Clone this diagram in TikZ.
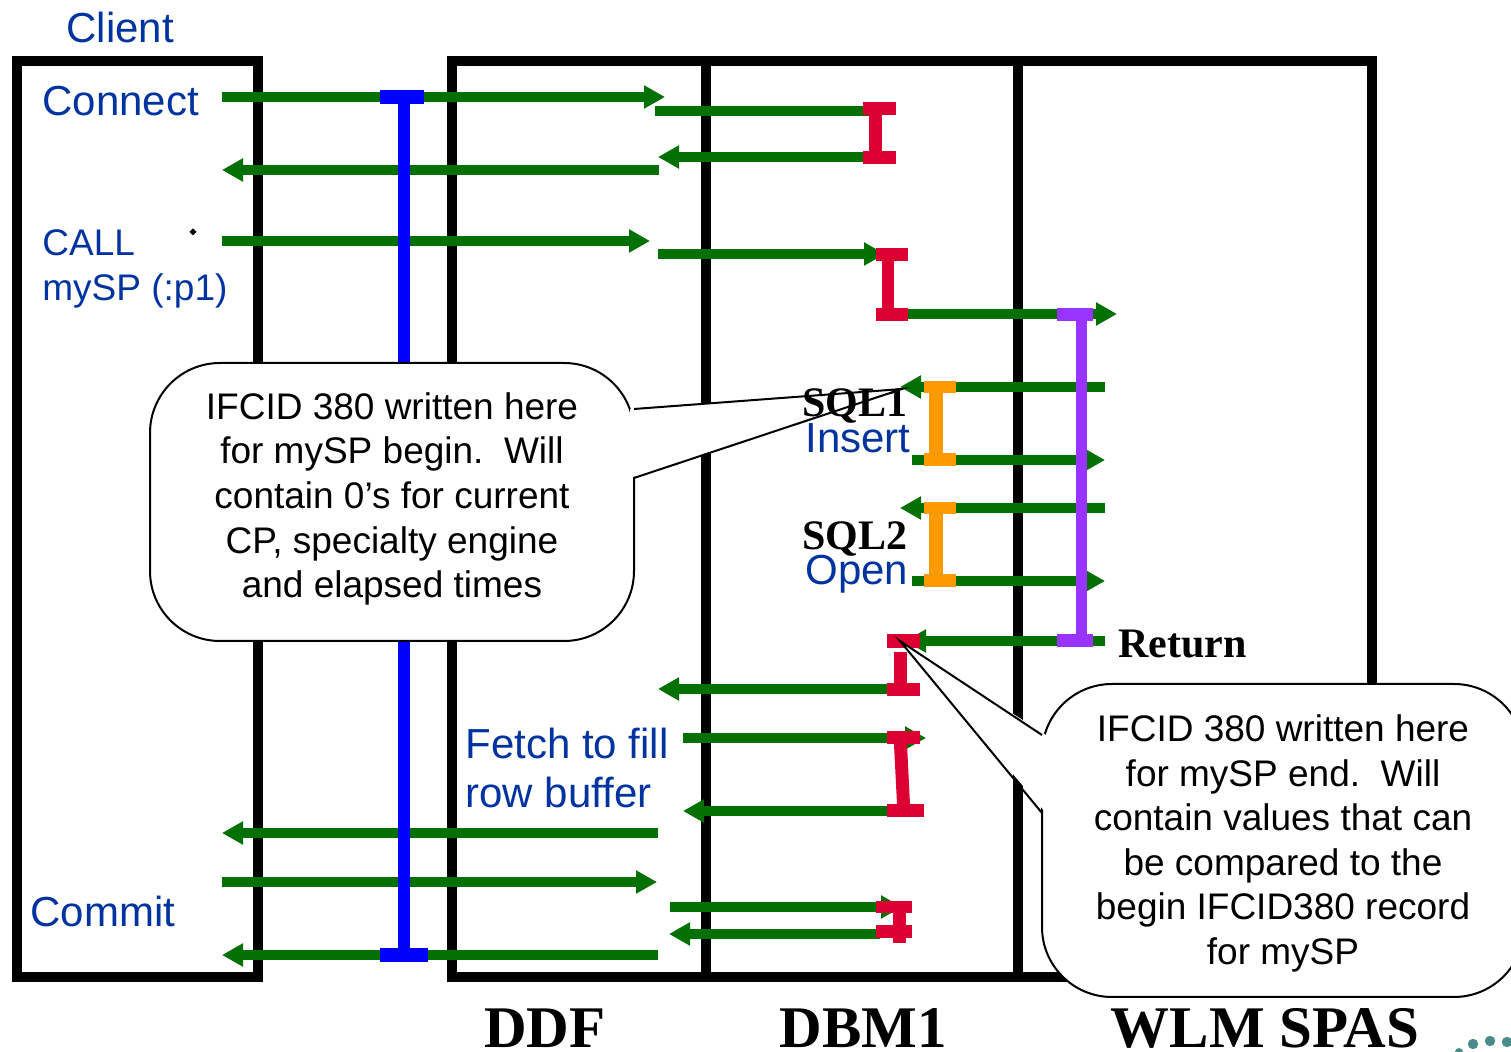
\documentclass[tikz,border=0pt]{standalone}
\usepackage{fontspec}
\setmainfont{Liberation Sans}
\newfontfamily\romana{Liberation Serif}
\usetikzlibrary{arrows.meta}

\definecolor{verde}{HTML}{037003}
\definecolor{azultexto}{HTML}{0033A0}
\definecolor{azul}{HTML}{0000FF}
\definecolor{rojo}{HTML}{DC0032}
\definecolor{naranja}{HTML}{FF9900}
\definecolor{morado}{HTML}{9933FF}
\definecolor{verdeazul}{HTML}{4A8C8C}

\tikzset{
  caja/.style={draw=black, line width=5pt},
  flecha/.style={draw=verde, line width=5pt, -{Triangle[length=10.5pt,width=11pt]}},
  tramo/.style={draw=verde, line width=5pt},
  rotulo/.style={text=azultexto, inner sep=0pt, font=\fontsize{21}{25}\selectfont},
  rotulochico/.style={text=azultexto, inner sep=0pt, font=\fontsize{18.5}{22}\selectfont},
  negrita/.style={inner sep=0pt, font=\romana\bfseries\fontsize{21}{25}\selectfont},
  titulo/.style={inner sep=0pt, font=\romana\bfseries\fontsize{29.5}{34}\selectfont},
  globo/.style={draw=black, line width=1pt, fill=white, rounded corners=35pt, inner sep=0pt},
  textoglobo/.style={inner sep=0pt, align=center, font=\fontsize{18.5}{22.3}\selectfont}
}

\begin{document}
\begin{tikzpicture}[x=0.5pt, y=-0.5pt]
    \useasboundingbox (0,0) rectangle (1511,1052);

    % Cajas
    \draw[caja] (17,61.5) rectangle (258,977.5);
    \draw[caja] (452,61.5) rectangle (1372,977.5);
    \draw[caja] (706,61.5) -- (706,977.5);
    \draw[caja] (1018,61.5) -- (1018,977.5);

    % Flechas verdes
    \coordinate (t1) at (655,111);
    \coordinate (t2) at (878,111);
    \draw[tramo] (t1) -- (t2);
    \foreach \xa/\xb/\y [count=\i] in {222/665/97, 868/658/157, 659/222/170, 222/650/241,
        658/885/254, 905/1117/314, 1105/900/387, 912/1105/460, 1105/900/508,
        912/1105/581, 1105/905/641, 890/658/689, 683/926/738, 890/683/811,
        658/222/833, 222/657/882, 670/902/907, 880/669/934, 658/222/955}{
      \coordinate (s\i) at (\xa,\y);
      \coordinate (e\i) at (\xb,\y);
      \draw[flecha] (s\i) -- (e\i);
    }

    % Barras rojas
    \fill[rojo] (863,102) rectangle (896,115);
    \fill[rojo] (869,115) rectangle (882,151);
    \fill[rojo] (863,151) rectangle (896,164);
    \fill[rojo] (876,248) rectangle (908,261);
    \fill[rojo] (882,261) rectangle (894,308);
    \fill[rojo] (876,308) rectangle (908,321);
    \fill[rojo] (887,634) rectangle (920,648);
    \fill[rojo] (894,652) rectangle (907,683);
    \fill[rojo] (887,683) rectangle (920,696);
    \fill[rojo] (887,731) rectangle (920,744);
    \fill[rojo] (894,744) -- (907,744) -- (910,804) -- (897,804) -- cycle;
    \fill[rojo] (887,804) rectangle (924,817);
    \fill[rojo] (876,901) rectangle (912,913);
    \fill[rojo] (893,913) rectangle (906,943);
    \fill[rojo] (876,925) rectangle (912,938);

    % Barras naranjas
    \foreach \y in {381,502}{
      \fill[naranja] (924,\y) rectangle (956,\y+12.5);
      \fill[naranja] (929,\y+12) rectangle (943,\y+73);
      \fill[naranja] (924,\y+72.5) rectangle (956,\y+85.5);
    }

    % Barra morada
    \fill[morado] (1057,308) rectangle (1093,321);
    \fill[morado] (1075.5,321) rectangle (1086.5,634);
    \fill[morado] (1057,634) rectangle (1093,647);

    % Barra azul
    \fill[azul] (398,97) rectangle (410,955);
    \fill[azul] (380,90) rectangle (424,104);
    \fill[azul] (380,948) rectangle (428,962);

    % Punto suelto
    \fill (193,228.5) -- (196.5,232) -- (193,235.5) -- (189.5,232) -- cycle;

    % Globo de inicio
    \node[globo, minimum width=242pt, minimum height=139pt] (globo1) at (392,502) {};
    \coordinate (g1a) at (634,409);
    \coordinate (g1b) at (634,478);
    \coordinate (punta1) at (902,389);
    \fill[white] ([xshift=-2pt]g1a) -- (punta1) -- ([xshift=-2pt]g1b) -- cycle;
    \draw[line width=1pt, line join=miter] (g1a) -- (punta1) -- (g1b);
    \node[textoglobo] (texto1) at (392,499) {IFCID 380 written here\\for mySP begin.\ \ Will\\contain 0’s for current\\CP, specialty engine\\and elapsed times};

    % Globo de fin
    \node[globo, minimum width=241pt, minimum height=156.5pt] (globo2) at (1283,840.5) {};
    \coordinate (g2a) at (1042,735);
    \coordinate (g2b) at (1042,813);
    \coordinate (punta2) at (900,641);
    \fill[white] ([xshift=2pt]g2a) -- (punta2) -- ([xshift=2pt]g2b) -- cycle;
    \draw[line width=1pt, line join=miter] (g2a) -- (punta2) -- (g2b);
    \node[textoglobo] (texto2) at (1283,843.5) {IFCID 380 written here\\for mySP end.\ \ Will\\contain values that can\\be compared to the\\begin IFCID380 record\\for mySP};

    % Rotulos
    \node[rotulo, anchor=base west] (cliente) at (66,43) {Client};
    \node[rotulo, anchor=base west] (connect) at (42,116) {Connect};
    \node[rotulochico, anchor=base west] (call) at (42,256) {CALL};
    \node[rotulochico, anchor=base west] (mysp) at (42,301) {mySP (:p1)};
    \node[rotulo, anchor=base west] (commit) at (30,927) {Commit};
    \node[rotulo, anchor=base west] (fetch) at (465,759) {Fetch to fill};
    \node[rotulo, anchor=base west] (buffer) at (465,808) {row buffer};
    \node[negrita, anchor=base east] (sqluno) at (908,417) {SQL1};
    \node[rotulo, anchor=base west] (insert) at (805,453) {Insert};
    \node[negrita, anchor=base east] (sqldos) at (908,550) {SQL2};
    \node[rotulo, anchor=base west] (open) at (805,585) {Open};
    \node[negrita, anchor=base west] (return) at (1118,658) {Return};
    \node[titulo, anchor=base] (ddf) at (545,1047) {DDF};
    \node[titulo, anchor=base] (dbm) at (863,1047) {DBM1};
    \node[titulo, anchor=base] (wlm) at (1265,1047) {WLM SPAS};

    % Puntos de la esquina
    \fill[verdeazul] (1459,1052) circle[radius=2pt];
    \fill[verdeazul] (1473,1044) circle[radius=2.6pt];
    \fill[verdeazul] (1490,1041) circle[radius=2.6pt];
    \fill[verdeazul] (1507,1042) circle[radius=2.6pt];
\end{tikzpicture}
\end{document}
